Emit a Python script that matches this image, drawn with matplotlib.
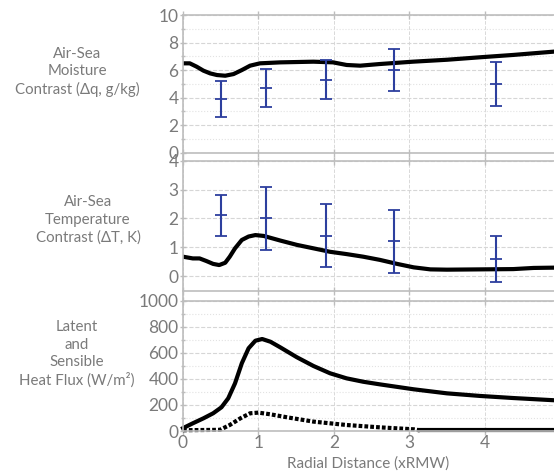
import matplotlib
matplotlib.use('Agg')
import numpy as np
import matplotlib.pyplot as plt
from matplotlib.lines import Line2D
from matplotlib.ticker import MultipleLocator

plt.rcParams['font.family'] = ['Lato', 'DejaVu Sans']

# air-sea moisture contrast (g/kg)
dq_x = [0, 0.09, 0.18, 0.27, 0.36, 0.45, 0.56, 0.67, 0.78, 0.89, 1.02, 1.29, 1.73,
        1.99, 2.17, 2.35, 2.61, 3.05, 3.5, 3.94, 4.38, 4.92]
dq_y = [6.49, 6.49, 6.25, 5.96, 5.76, 5.64, 5.59, 5.71, 6.0, 6.32, 6.49, 6.56, 6.61,
        6.56, 6.37, 6.32, 6.44, 6.61, 6.75, 6.93, 7.1, 7.34]

# air-sea temperature contrast (K)
dt_x = [0, 0.13, 0.22, 0.31, 0.40, 0.48, 0.56, 0.62, 0.69, 0.78, 0.87, 0.96, 1.07,
        1.29, 1.51, 1.73, 1.95, 2.17, 2.39, 2.61, 2.84, 3.06, 3.28, 3.5, 3.94, 4.38,
        4.65, 4.92]
dt_y = [0.67, 0.61, 0.61, 0.52, 0.42, 0.38, 0.46, 0.67, 0.96, 1.25, 1.37, 1.42, 1.39,
        1.23, 1.08, 0.96, 0.84, 0.76, 0.67, 0.56, 0.42, 0.30, 0.23, 0.22, 0.23, 0.24,
        0.28, 0.29]

# latent (solid) and sensible (dotted) heat flux (W/m2)
lh_x = [0, 0.13, 0.27, 0.40, 0.51, 0.60, 0.69, 0.78, 0.87, 0.96, 1.05, 1.16, 1.29,
        1.51, 1.73, 1.95, 2.17, 2.39, 2.61, 3.06, 3.5, 3.94, 4.38, 4.92]
lh_y = [22, 59, 97, 136, 182, 251, 366, 520, 635, 693, 706, 685, 642,
        566, 499, 443, 404, 378, 358, 320, 289, 269, 253, 236]
sh_x = [0, 0.49, 0.62, 0.76, 0.89, 1.0, 1.16, 1.38, 1.73, 2.17, 2.61, 3.06, 3.14,
        4.0, 4.92]
sh_y = [6, 9, 46, 97, 136, 141, 128, 105, 72, 46, 28, 13, 5, 5, 5]

# observations with error bars
obs_x = [0.5, 1.1, 1.9, 2.8, 4.15]
obs_dq = [3.9, 4.7, 5.3, 6.0, 5.0]
obs_dq_err = [1.3, 1.4, 1.4, 1.5, 1.6]
obs_dt = [2.1, 2.0, 1.4, 1.2, 0.6]
obs_dt_err = [0.7, 1.1, 1.1, 1.1, 0.8]

gray = '#7a7a7a'
frame = '#bdbdbd'
blue = '#2d3f9e'

fig = plt.figure(figsize=(5.54, 4.76), dpi=100)
L, R = 183 / 554, 1.0
H = 476.0
ax1 = fig.add_axes([L, (H - 152.7) / H, R - L, (152.7 - 15) / H])
ax2 = fig.add_axes([L, (H - 291) / H, R - L, (291 - 160.7) / H])
ax3 = fig.add_axes([L, (H - 431) / H, R - L, (431 - 300.7) / H])

for ax in [ax1, ax2, ax3]:
    ax.set_xlim(0, 4.92)
    ax.xaxis.set_major_locator(MultipleLocator(1))
    for s in ['top', 'bottom']:
        ax.spines[s].set_color(frame)
        ax.spines[s].set_linewidth(1.2)
    ax.spines['right'].set_visible(False)
    ax.spines['left'].set_visible(False)
    ax.tick_params(axis='both', which='both', colors=frame, labelcolor=gray,
                   labelsize=12.5, direction='inout', width=1)
    ax.tick_params(axis='y', which='major', length=4.5, pad=1)
    ax.tick_params(axis='y', which='minor', length=3)
    ax.tick_params(axis='x', top=True, bottom=True, length=6, labelbottom=False)
    ax.grid(True, which='major', axis='y', color='#d6d6d6', linestyle='--', linewidth=0.8)
    ax.grid(True, which='minor', axis='y', color='#e2e2e2', linestyle=':', linewidth=0.8)
    ax.grid(True, which='major', axis='x', color='#d9d9d9', linestyle='--', linewidth=0.7)
    ax.set_axisbelow(True)

# moisture panel
ax1.set_ylim(0, 10)
ax1.yaxis.set_major_locator(MultipleLocator(2))
ax1.yaxis.set_minor_locator(MultipleLocator(1))
ax1.plot(dq_x, dq_y, color='black', lw=3, solid_joinstyle='round')
ax1.errorbar(obs_x, obs_dq, yerr=obs_dq_err, fmt='_', color=blue, ms=8, mew=1.3,
             elinewidth=1.5, capsize=4, capthick=1.5)

# temperature panel
ax2.set_ylim(-0.52, 4)
ax2.yaxis.set_major_locator(MultipleLocator(1))
ax2.plot(dt_x, dt_y, color='black', lw=3, solid_joinstyle='round')
ax2.errorbar(obs_x, obs_dt, yerr=obs_dt_err, fmt='_', color=blue, ms=8, mew=1.3,
             elinewidth=1.5, capsize=4, capthick=1.5)

# heat flux panel
ax3.set_ylim(0, 1000)
ax3.yaxis.set_major_locator(MultipleLocator(200))
ax3.yaxis.set_minor_locator(MultipleLocator(100))
ax3.plot(lh_x, lh_y, color='black', lw=3, solid_joinstyle='round', clip_on=False)
k = sh_x.index(3.14)
ax3.plot(sh_x[:k + 1], sh_y[:k + 1], color='black', lw=3, ls=(0, (0.9, 0.5)), clip_on=False)
ax3.plot(sh_x[k:], sh_y[k:], color='black', lw=3, clip_on=False)
ax3.tick_params(axis='x', labelbottom=True, pad=0)
ax3.set_xlabel('Radial Distance (xRMW)', color=gray, fontsize=11, labelpad=4)

# continuous left axis line
fig.add_artist(Line2D([L, L], [(H - 431) / H, (H - 15) / H], color=frame, lw=1.2))

fig.text(77 / 554, 1 - 72 / H, 'Air-Sea\nMoisture\nContrast (\u0394q, g/kg)', color=gray,
         fontsize=10.8, ha='center', va='center', linespacing=1.3)
fig.text(88 / 554, 1 - 220 / H, 'Air-Sea\nTemperature\nContrast (\u0394T, K)', color=gray,
         fontsize=10.8, ha='center', va='center', linespacing=1.3)
fig.text(77 / 554, 1 - 354 / H, 'Latent\nand\nSensible\nHeat Flux (W/m\u00b2)', color=gray,
         fontsize=10.8, ha='center', va='center', linespacing=1.3)

fig.savefig('out.png', dpi=100)
